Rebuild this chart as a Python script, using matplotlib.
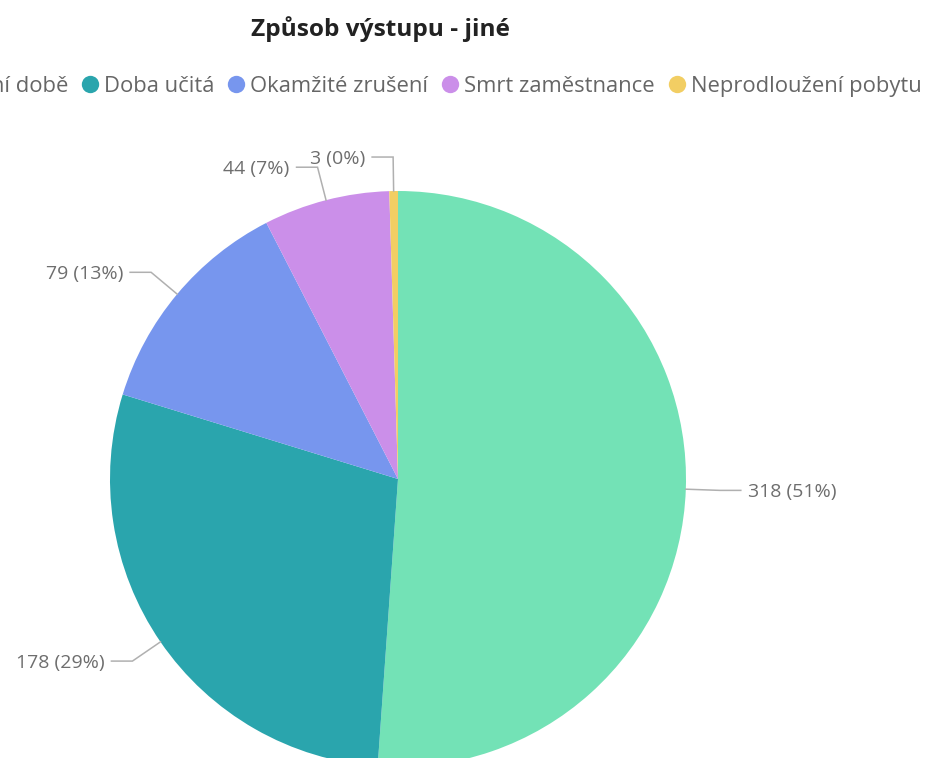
import matplotlib
matplotlib.use("Agg")
import matplotlib.pyplot as plt
import numpy as np

# chart data
labels = ['Zrušení ve zkušební době', 'Doba učitá', 'Okamžité zrušení',
          'Smrt zaměstnance', 'Neprodloužení pobytu']
values = [318, 178, 79, 44, 3]
colors = ['#73e2b6', '#2aa5ad', '#7796ee', '#cb8fe9', '#f2ce63']
title = 'Způsob výstupu - jiné'

W, H = 927, 758
plt.rcParams['font.family'] = ['Open Sans', 'DejaVu Sans']

fig = plt.figure(figsize=(W / 100, H / 100), dpi=100)
ax = fig.add_axes([0, 0, 1, 1])

def fy(py):
    # pixel row (from top) -> data y
    return H - py

cx, cy, r = 398, fy(479), 288
ax.pie(values, colors=colors, startangle=90, counterclock=False,
       center=(cx, cy), radius=r, frame=True,
       wedgeprops=dict(linewidth=0))
ax.set_xlim(0, W)
ax.set_ylim(0, H)
ax.set_aspect('equal')
ax.axis('off')

# leader lines + labels
total = float(sum(values))
L1, L2, gap = 34, 21, 7
start = 90.0
for v in values:
    sweep = 360.0 * v / total
    mid = np.radians(start - sweep / 2)
    start -= sweep
    c, s = np.cos(mid), np.sin(mid)
    x0, y0 = cx + r * c, cy + r * s
    x1, y1 = cx + (r + L1) * c, cy + (r + L1) * s
    side = 1 if c >= 0 else -1
    x2 = x1 + side * L2
    ax.plot([x0, x1, x2], [y0, y1, y1], color='#b0b0b0', lw=1.1,
            solid_joinstyle='miter', clip_on=False)
    ax.text(x2 + side * gap, y1 - 2, '{} ({}%)'.format(v, int(round(100 * v / total))),
            ha='left' if side > 0 else 'right', va='center',
            fontsize=14, color='#6e6e6e')

ax.text(380, fy(36), title, ha='center', va='baseline',
        fontsize=17.6, fontweight='bold', color='#222222')

# legend, laid out in a row (first item runs off the left edge)
renderer = fig.canvas.get_renderer()
leg_y, txt_y = fy(84), fy(92)
rad, tgap, igap = 9, 5, 13
fs = 15.8
x = 90  # centre of the second marker
for i in range(1, len(labels)):
    ax.plot(x, leg_y, 'o', ms=12.5, color=colors[i], mec='none', clip_on=False)
    t = ax.text(x + rad + tgap, txt_y, labels[i], ha='left', va='baseline',
                fontsize=fs, color='#666666')
    w = t.get_window_extent(renderer).width
    x = x + rad + tgap + w + igap + rad
tx = 90 - rad - igap
t = ax.text(tx, txt_y, labels[0], ha='right', va='baseline',
            fontsize=fs, color='#666666')
w = t.get_window_extent(renderer).width
ax.plot(tx - w - tgap - rad, leg_y, 'o', ms=12.5, color=colors[0], mec='none')

fig.savefig('out.png', dpi=100)
